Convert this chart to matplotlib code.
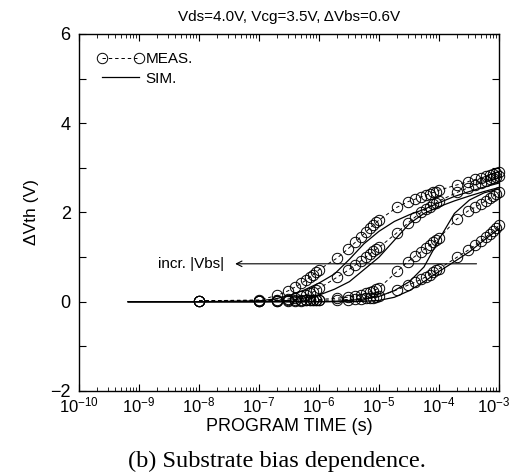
import matplotlib
matplotlib.use('Agg')
import matplotlib.pyplot as plt
from matplotlib.ticker import LogLocator, MultipleLocator, NullFormatter
from matplotlib.transforms import ScaledTranslation

plt.rcParams['font.family'] = ['Liberation Sans', 'DejaVu Sans']

# measured program times (s)
t_meas = [1e-8,
          1e-7, 2e-7, 3e-7, 4e-7, 5e-7, 6e-7, 7e-7, 8e-7, 9e-7,
          1e-6, 2e-6, 3e-6, 4e-6, 5e-6, 6e-6, 7e-6, 8e-6, 9e-6,
          1e-5, 2e-5, 3e-5, 4e-5, 5e-5, 6e-5, 7e-5, 8e-5, 9e-5,
          1e-4, 2e-4, 3e-4, 4e-4, 5e-4, 6e-4, 7e-4, 8e-4, 9e-4,
          1e-3]

# measured dVth (V), one list per substrate bias
meas_1 = [0.02,
          0.04, 0.14, 0.24, 0.33, 0.41, 0.48, 0.55, 0.61, 0.66,
          0.72, 0.98, 1.18, 1.33, 1.46, 1.56, 1.65, 1.72, 1.78,
          1.83, 2.12, 2.24, 2.30, 2.35, 2.39, 2.42, 2.45, 2.47,
          2.50, 2.62, 2.69, 2.74, 2.78, 2.81, 2.84, 2.86, 2.88,
          2.90]
meas_2 = [0.02,
          0.02, 0.04, 0.06, 0.09, 0.12, 0.15, 0.19, 0.22, 0.26,
          0.30, 0.55, 0.70, 0.82, 0.92, 1.00, 1.07, 1.13, 1.18,
          1.22, 1.55, 1.76, 1.90, 2.00, 2.07, 2.13, 2.18, 2.22,
          2.26, 2.45, 2.55, 2.62, 2.67, 2.71, 2.74, 2.77, 2.79,
          2.81]
meas_3 = [0.02,
          0.02, 0.02, 0.03, 0.03, 0.03, 0.04, 0.04, 0.04, 0.05,
          0.05, 0.08, 0.10, 0.13, 0.16, 0.19, 0.22, 0.25, 0.28,
          0.31, 0.68, 0.90, 1.02, 1.12, 1.20, 1.27, 1.33, 1.38,
          1.43, 1.86, 2.03, 2.12, 2.20, 2.26, 2.32, 2.37, 2.41,
          2.45]
meas_4 = [0.02,
          0.02, 0.02, 0.02, 0.02, 0.02, 0.03, 0.03, 0.03, 0.03,
          0.03, 0.04, 0.05, 0.06, 0.07, 0.08, 0.08, 0.09, 0.10,
          0.12, 0.27, 0.37, 0.44, 0.50, 0.56, 0.61, 0.66, 0.70,
          0.74, 1.00, 1.15, 1.27, 1.37, 1.45, 1.52, 1.59, 1.65,
          1.72]

# simulated curves
t_sim = [6.6e-10, 1e-8, 1e-7, 1.8e-7, 3.2e-7, 5.6e-7,
         1e-6, 1.8e-6, 3.2e-6, 5.6e-6,
         1e-5, 1.8e-5, 3.2e-5, 5.6e-5,
         1e-4, 1.8e-4, 3.2e-4, 5.6e-4, 1e-3]
sim_1 = [0, 0, 0.02, 0.06, 0.14, 0.26, 0.42, 0.62, 0.95, 1.30,
         1.58, 1.80, 1.95, 2.07, 2.22, 2.36, 2.47, 2.57, 2.66]
sim_2 = [0, 0, 0, 0.01, 0.03, 0.08, 0.15, 0.28, 0.45, 0.72,
         1.00, 1.38, 1.75, 1.98, 2.13, 2.26, 2.37, 2.47, 2.56]
sim_3 = [0, 0, 0, 0, 0, 0, 0, 0.01, 0.03, 0.06,
         0.12, 0.25, 0.45, 0.78, 1.40, 1.98, 2.28, 2.44, 2.53]
sim_4 = [0, 0, 0, 0, 0, 0, 0, 0, 0, 0.01,
         0.03, 0.10, 0.25, 0.45, 0.68, 0.90, 1.12, 1.38, 1.64]

fig = plt.figure(figsize=(5.13, 4.76), dpi=100)
ax = fig.add_axes([0.154, 0.1786, 0.819, 0.75])

for i, ys in enumerate([meas_1, meas_2, meas_3, meas_4]):
    ax.plot(t_meas, ys, color='black', ls=(0, (3.5, 3)), lw=0.7,
            marker='o', ms=7.5, mfc='none', mec='black', mew=0.7,
            clip_on=False, label='MEAS.' if i == 0 else None)
for i, ys in enumerate([sim_1, sim_2, sim_3, sim_4]):
    ax.plot(t_sim, ys, color='black', lw=0.9,
            label='SIM.' if i == 0 else None)

ax.annotate('', xy=(4e-8, 0.85), xytext=(4.2e-4, 0.85),
            arrowprops=dict(arrowstyle='->', lw=0.8, color='black',
                            shrinkA=0, shrinkB=0))
ax.text(2.6e-8, 0.85, 'incr. |Vbs|', ha='right', va='center', fontsize=11)

ax.set_xscale('log')
ax.set_xlim(1e-10, 1e-3)
ax.set_ylim(-2, 6)
ax.xaxis.set_major_locator(LogLocator(base=10, numticks=20))
ax.xaxis.set_minor_locator(LogLocator(base=10, subs=range(2, 10), numticks=20))
ax.xaxis.set_minor_formatter(NullFormatter())
ax.yaxis.set_major_locator(MultipleLocator(2))
ax.yaxis.set_minor_locator(MultipleLocator(1))
ax.tick_params(which='both', direction='in', top=True, right=True)
ax.tick_params(which='major', length=5, width=0.8)
ax.tick_params(which='minor', length=3, width=0.6)
ax.tick_params(axis='y', which='minor', length=5, width=0.8)
ax.tick_params(axis='x', pad=3, labelsize=12)
ax.tick_params(axis='y', pad=6, labelsize=13)
for s in ax.spines.values():
    s.set_linewidth(1.0)

ax.set_xlabel('PROGRAM TIME (s)', fontsize=13, labelpad=2)
ax.set_ylabel('ΔVth (V)', fontsize=12.5, labelpad=8)
fig.text(0.563, 1 - 17 / 476, 'Vds=4.0V, Vcg=3.5V, ΔVbs=0.6V',
         ha='center', va='center', fontsize=11)

ax.legend(loc='upper left', frameon=False, numpoints=2, fontsize=11,
          handlelength=3.0, handletextpad=0.15, borderaxespad=1.0,
          borderpad=0.2, labelspacing=0.35)

fig.text(0.54, (476 - 461) / 476, '(b) Substrate bias dependence.',
         ha='center', va='center', fontsize=17.5,
         family=['Liberation Serif', 'DejaVu Serif'])

# nudge the 10^-3 label left so its exponent stays inside the figure
fig.canvas.draw()
for tick in ax.xaxis.get_major_ticks():
    if abs(tick.get_loc() - 1e-3) < 1e-9:
        lab = tick.label1
        lab.set_transform(lab.get_transform() +
                          ScaledTranslation(-4 / 72, 0, fig.dpi_scale_trans))

fig.savefig('out.png', dpi=100)
